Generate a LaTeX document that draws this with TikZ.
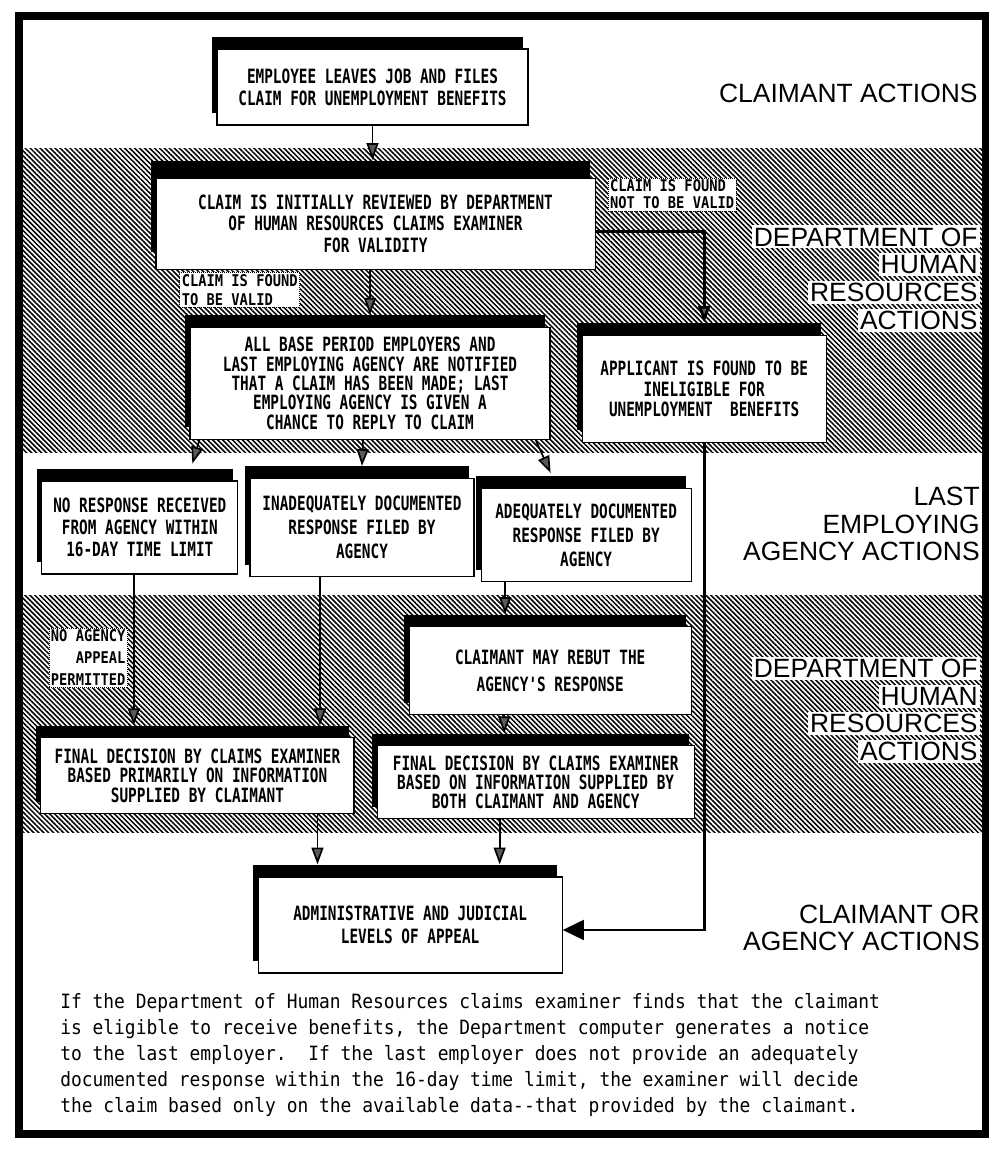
\documentclass[tikz,border=0pt]{standalone}
\usepackage{fontspec}
\usepackage{tikz}
\usetikzlibrary{positioning, arrows.meta, shadows, patterns.meta, calc}

\newfontfamily\boxfont[FakeStretch=0.73]{DejaVu Sans Mono}
\newfontfamily\tagfont[FakeStretch=0.85]{DejaVu Sans Mono}
\newfontfamily\bandfont{Liberation Sans}
\newfontfamily\notefont[FakeStretch=0.91]{DejaVu Sans Mono}
\newcommand{\wb}[1]{{\setlength{\fboxsep}{1.5pt}\colorbox{white}{#1}}}

\tikzset{
  box/.style={draw, fill=white, line width=0.8pt, align=center, inner sep=2pt,
    font=\boxfont\bfseries\fontsize{14}{15.5}\selectfont,
    drop shadow={shadow xshift=-0.125cm, shadow yshift=#1, fill=black, opacity=1}},
  box/.default=0.3cm,
  lines/.style={font=\boxfont\bfseries\fontsize{14}{#1}\selectfont},
  tag/.style={fill=white, draw, densely dotted, line width=0.4pt, inner sep=1.5pt,
    font=\tagfont\bfseries\fontsize{11.5}{#1}\selectfont},
  tag/.default=12pt,
  bandlabel/.style={anchor=east, align=right, inner sep=0pt,
    font=\bandfont\fontsize{18.8}{19.7}\selectfont},
  flow/.style={line width=1.2pt, -{Triangle[width=8.5pt, length=12pt, fill=black!65]}},
  reject/.style={flow, line width=2pt},
  bigflow/.style={line width=2pt, -{Triangle[width=14pt, length=15pt]}},
  hatch/.style={pattern={Lines[angle=-45, distance=2.5pt, line width=1.1pt]}, pattern color=black}
}

\begin{document}
\begin{tikzpicture}[x=0.025cm, y=-0.025cm]
  \useasboundingbox (0,0) rectangle (988,1152);

  \fill[hatch] (23,148) rectangle (982,452);
  \fill[hatch] (23,595) rectangle (982,832);
  \draw[line width=6pt] (19,16) rectangle (986,1134);

  \node[box, minimum width=7.775cm, minimum height=1.9cm] (b1) at (372.5,87)
    {EMPLOYEE LEAVES JOB AND FILES\\CLAIM FOR UNEMPLOYMENT BENEFITS};
  \node[box=0.44cm, minimum width=10.975cm, minimum height=2.275cm, below=1.3cm of b1, xshift=0.075cm] (b2)
    {CLAIM IS INITIALLY REVIEWED BY DEPARTMENT\\OF HUMAN RESOURCES CLAIMS EXAMINER\\FOR VALIDITY};
  \node[box, lines=13.7pt, minimum width=9cm, minimum height=2.8cm, below=1.425cm of b2, xshift=-0.1375cm] (b3)
    {ALL BASE PERIOD EMPLOYERS AND\\LAST EMPLOYING AGENCY ARE NOTIFIED\\THAT A CLAIM HAS BEEN MADE; LAST\\EMPLOYING AGENCY IS GIVEN A\\CHANCE TO REPLY TO CLAIM};
  \node[box, lines=14.8pt, minimum width=6.1cm, minimum height=2.675cm, right=0.775cm of b3, yshift=-0.1375cm] (b4)
    {APPLICANT IS FOUND TO BE\\INELIGIBLE FOR\\UNEMPLOYMENT\ \ BENEFITS};

  \node[box, lines=17pt, minimum width=5.6cm, minimum height=2.45cm, below=0.95cm of b3, xshift=-0.2cm] (b6)
    {INADEQUATELY DOCUMENTED\\RESPONSE FILED BY\\AGENCY};
  \node[box, minimum width=4.9cm, minimum height=2.325cm, left=0.275cm of b6] (b5)
    {NO RESPONSE RECEIVED\\FROM AGENCY WITHIN\\16-DAY TIME LIMIT};
  \node[box, lines=17pt, minimum width=5.25cm, minimum height=2.325cm, right=0.15cm of b6, yshift=-0.1875cm] (b7)
    {ADEQUATELY DOCUMENTED\\RESPONSE FILED BY\\AGENCY};

  \node[box, lines=19pt, minimum width=7.05cm, minimum height=2.2cm, below=1.1cm of b7, xshift=-0.9cm] (b10)
    {CLAIMANT MAY REBUT THE\\AGENCY'S RESPONSE};
  \node[box, lines=13.5pt, minimum width=7.925cm, minimum height=1.825cm, below=0.75cm of b10, xshift=-0.3625cm] (b12)
    {FINAL DECISION BY CLAIMS EXAMINER\\BASED ON INFORMATION SUPPLIED BY\\BOTH CLAIMANT AND AGENCY};
  \node[box, lines=14pt, minimum width=7.825cm, minimum height=1.9cm, left=0.55cm of b12, yshift=0.1625cm] (b11)
    {FINAL DECISION BY CLAIMS EXAMINER\\BASED PRIMARILY ON INFORMATION\\SUPPLIED BY CLAIMANT};
  \node[box, lines=16pt, minimum width=7.6cm, minimum height=2.4cm, below=1.425cm of b12, xshift=-3.1375cm] (b13)
    {ADMINISTRATIVE AND JUDICIAL\\LEVELS OF APPEAL};

  \node[tag, align=left, below right=0cm and 0.3cm of b2.north east] (notvalid)
    {CLAIM IS FOUND\\NOT TO BE VALID};
  \node[tag=13.5pt, align=left, below right=0.05cm and 0.6cm of b2.south west] (valid)
    {CLAIM IS FOUND\\TO BE VALID};
  \node[tag=15.5pt, align=right, below left=1.325cm and 0.3cm of b5.south] (noappeal)
    {NO AGENCY\\APPEAL\\PERMITTED};

  \coordinate (c5) at ([xshift=-0.15cm]b5.south);
  \coordinate (c6) at ([xshift=-1.05cm]b6.south);
  \coordinate (c7) at ([xshift=-2.025cm]b7.south);
  \coordinate (c10) at ([xshift=-1.15cm]b10.south);
  \coordinate (c11) at ([xshift=3cm]b11.south);
  \coordinate (c12) at ([xshift=-0.9cm]b12.south);

  \draw[flow] (b1.south) -- ($(b1.south |- b2.north)+(0pt,0.44cm)$);
  \draw[flow] (b3.north |- b2.south) -- ($(b3.north)+(0pt,0.3cm)$);
  \draw[reject] ([yshift=-0.2cm]b2.east) -| ($(b4.north)+(0pt,0.3cm)$);
  \draw[flow] ([xshift=0.25cm]b3.south west) -- ($(b5.north east)+(-1.15cm,0.42cm)$);
  \draw[flow] ([xshift=-0.175cm]b3.south) -- ($(b6.north)+(0pt,0.3cm)$);
  \draw[flow] ([xshift=-0.375cm]b3.south east) -- ($(b7.north west)+(1.75cm,0.375cm)$);
  \draw[bigflow] (b4.south) |- ([yshift=-0.125cm]b13.east);
  \draw[flow] (c5) -- ($(c5 |- b11.north)+(0pt,0.3cm)$);
  \draw[flow] (c6) -- ($(c6 |- b11.north)+(0pt,0.3cm)$);
  \draw[flow] (c7) -- ($(c7 |- b10.north)+(0pt,0.3cm)$);
  \draw[flow] (c10) -- ($(c10 |- b12.north)+(0pt,0.3cm)$);
  \draw[flow] (c11) -- ($(c11 |- b13.north)+(0pt,0.3cm)$);
  \draw[flow] (c12) -- ($(c12 |- b13.north)+(0pt,0.3cm)$);

  \node[bandlabel] (claimant) at (980,93) {\wb{CLAIMANT ACTIONS}};
  \node[bandlabel] (dhrtop) at (980,278.5)
    {\wb{DEPARTMENT OF}\\\wb{HUMAN}\\\wb{RESOURCES}\\\wb{ACTIONS}};
  \node[bandlabel] (agency) at (980,524)
    {LAST\\EMPLOYING\\AGENCY ACTIONS};
  \node[bandlabel] (dhrlow) at (980,710)
    {\wb{DEPARTMENT OF}\\\wb{HUMAN}\\\wb{RESOURCES}\\\wb{ACTIONS}};
  \node[bandlabel] (appeal) at (980,928)
    {CLAIMANT OR\\AGENCY ACTIONS};

  \node[anchor=west, align=left, inner sep=0pt, font=\notefont\fontsize{14}{18.5}\selectfont] (summary) at (60,1055)
    {If the Department of Human Resources claims examiner finds that the claimant\\
     is eligible to receive benefits, the Department computer generates a notice\\
     to the last employer.\ \ If the last employer does not provide an adequately\\
     documented response within the 16-day time limit, the examiner will decide\\
     the claim based only on the available data-{}-that provided by the claimant.};
\end{tikzpicture}
\end{document}
